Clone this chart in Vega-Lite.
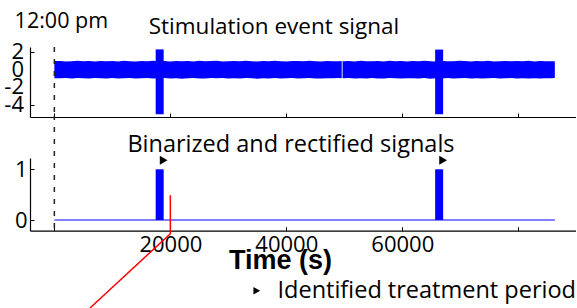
{
  "$schema": "https://vega.github.io/schema/vega-lite/v6.json",
  "padding": {"left": 4, "top": 11, "right": 0, "bottom": 0},
  "autosize": {"type": "pad"},
  "bounds": "flush",
  "spacing": 41,
  "config": {
    "view": {"stroke": null},
    "font": "Open Sans",
    "axis": {"grid": false, "domainColor": "#000", "domainWidth": 1.2, "tickColor": "#000", "tickSize": -4, "tickWidth": 1, "labelColor": "#000", "labelFont": "Open Sans", "labelFontSize": 22, "titleColor": "#000"},
    "title": {"font": "Open Sans", "fontSize": 22.5, "fontWeight": "normal", "color": "#000", "frame": "group"}
  },
  "datasets": {
    "noise": [
      {"t":0,"hi":0.98,"lo":-0.95,"seg":"a"},{"t":1000,"hi":1.0,"lo":-0.97,"seg":"a"},{"t":2000,"hi":0.94,"lo":-0.92,"seg":"a"},{"t":3000,"hi":0.97,"lo":-0.99,"seg":"a"},{"t":4000,"hi":1.01,"lo":-0.94,"seg":"a"},
      {"t":5000,"hi":0.95,"lo":-0.96,"seg":"a"},{"t":6000,"hi":0.98,"lo":-1.0,"seg":"a"},{"t":7000,"hi":0.93,"lo":-0.93,"seg":"a"},{"t":8000,"hi":1.0,"lo":-0.97,"seg":"a"},{"t":9000,"hi":0.96,"lo":-0.98,"seg":"a"},
      {"t":10000,"hi":0.99,"lo":-0.93,"seg":"a"},{"t":11000,"hi":0.94,"lo":-1.0,"seg":"a"},{"t":12000,"hi":1.01,"lo":-0.95,"seg":"a"},{"t":13000,"hi":0.97,"lo":-0.92,"seg":"a"},{"t":14000,"hi":0.94,"lo":-0.99,"seg":"a"},
      {"t":15000,"hi":0.99,"lo":-0.96,"seg":"a"},{"t":16000,"hi":0.97,"lo":-0.94,"seg":"a"},{"t":17000,"hi":1.02,"lo":-1.0,"seg":"a"},{"t":18000,"hi":0.95,"lo":-0.97,"seg":"a"},{"t":19000,"hi":0.98,"lo":-0.93,"seg":"a"},
      {"t":20000,"hi":0.93,"lo":-0.98,"seg":"a"},{"t":21000,"hi":1.0,"lo":-0.95,"seg":"a"},{"t":22000,"hi":0.96,"lo":-1.01,"seg":"a"},{"t":23000,"hi":0.99,"lo":-0.96,"seg":"a"},{"t":24000,"hi":0.94,"lo":-0.93,"seg":"a"},
      {"t":25000,"hi":1.01,"lo":-0.98,"seg":"a"},{"t":26000,"hi":0.96,"lo":-0.99,"seg":"a"},{"t":27000,"hi":0.98,"lo":-0.94,"seg":"a"},{"t":28000,"hi":1.02,"lo":-0.97,"seg":"a"},{"t":29000,"hi":0.94,"lo":-0.92,"seg":"a"},
      {"t":30000,"hi":0.97,"lo":-1.0,"seg":"a"},{"t":31000,"hi":1.0,"lo":-0.95,"seg":"a"},{"t":32000,"hi":0.95,"lo":-0.98,"seg":"a"},{"t":33000,"hi":1.01,"lo":-0.93,"seg":"a"},{"t":34000,"hi":0.97,"lo":-0.96,"seg":"a"},
      {"t":35000,"hi":0.93,"lo":-1.01,"seg":"a"},{"t":36000,"hi":0.99,"lo":-0.95,"seg":"a"},{"t":37000,"hi":0.96,"lo":-0.98,"seg":"a"},{"t":38000,"hi":1.01,"lo":-0.93,"seg":"a"},{"t":39000,"hi":0.97,"lo":-0.99,"seg":"a"},
      {"t":40000,"hi":0.94,"lo":-0.96,"seg":"a"},{"t":41000,"hi":1.0,"lo":-0.94,"seg":"a"},{"t":42000,"hi":0.98,"lo":-1.0,"seg":"a"},{"t":43000,"hi":0.95,"lo":-0.95,"seg":"a"},{"t":44000,"hi":1.02,"lo":-0.92,"seg":"a"},
      {"t":45000,"hi":0.97,"lo":-0.98,"seg":"a"},{"t":46000,"hi":0.94,"lo":-0.99,"seg":"a"},{"t":47000,"hi":0.99,"lo":-0.95,"seg":"a"},{"t":48000,"hi":0.97,"lo":-0.97,"seg":"a"},{"t":49000,"hi":0.96,"lo":-0.93,"seg":"a"},
      {"t":49550,"hi":0.98,"lo":-0.96,"seg":"a"},
      {"t":49700,"hi":0.97,"lo":-0.97,"seg":"b"},{"t":50800,"hi":1.0,"lo":-0.93,"seg":"b"},{"t":51800,"hi":0.94,"lo":-0.99,"seg":"b"},{"t":52800,"hi":1.01,"lo":-0.95,"seg":"b"},{"t":53800,"hi":0.97,"lo":-1.0,"seg":"b"},
      {"t":54800,"hi":0.95,"lo":-0.94,"seg":"b"},{"t":55800,"hi":0.99,"lo":-0.98,"seg":"b"},{"t":56800,"hi":0.94,"lo":-0.99,"seg":"b"},{"t":57800,"hi":1.02,"lo":-0.93,"seg":"b"},{"t":58800,"hi":0.97,"lo":-0.96,"seg":"b"},
      {"t":59800,"hi":0.98,"lo":-1.0,"seg":"b"},{"t":60800,"hi":0.94,"lo":-0.95,"seg":"b"},{"t":61800,"hi":1.0,"lo":-0.97,"seg":"b"},{"t":62800,"hi":0.96,"lo":-0.98,"seg":"b"},{"t":63800,"hi":1.01,"lo":-0.93,"seg":"b"},
      {"t":64800,"hi":0.97,"lo":-1.01,"seg":"b"},{"t":65800,"hi":0.93,"lo":-0.96,"seg":"b"},{"t":66800,"hi":1.0,"lo":-0.98,"seg":"b"},{"t":67800,"hi":0.97,"lo":-0.94,"seg":"b"},{"t":68800,"hi":0.95,"lo":-0.99,"seg":"b"},
      {"t":69800,"hi":1.01,"lo":-0.96,"seg":"b"},{"t":70800,"hi":0.98,"lo":-0.92,"seg":"b"},{"t":71800,"hi":0.94,"lo":-0.98,"seg":"b"},{"t":72800,"hi":0.99,"lo":-0.95,"seg":"b"},{"t":73800,"hi":0.96,"lo":-1.0,"seg":"b"},
      {"t":74800,"hi":1.02,"lo":-0.97,"seg":"b"},{"t":75800,"hi":0.94,"lo":-0.94,"seg":"b"},{"t":76800,"hi":0.97,"lo":-0.99,"seg":"b"},{"t":77800,"hi":1.0,"lo":-0.96,"seg":"b"},{"t":78800,"hi":0.95,"lo":-0.93,"seg":"b"},
      {"t":79800,"hi":0.98,"lo":-1.0,"seg":"b"},{"t":80800,"hi":0.97,"lo":-0.97,"seg":"b"},{"t":81800,"hi":1.01,"lo":-0.98,"seg":"b"},{"t":82800,"hi":0.94,"lo":-0.95,"seg":"b"},{"t":83800,"hi":0.99,"lo":-0.99,"seg":"b"},
      {"t":84800,"hi":0.96,"lo":-0.96,"seg":"b"},{"t":85800,"hi":0.97,"lo":-0.97,"seg":"b"},{"t":86300,"hi":0.95,"lo":-0.94,"seg":"b"}
    ],
    "events": [
      {"start":17470,"end":18850,"hi":2.3,"lo":-5.03,"on":1,"off":0,"kind":"Identified treatment period"},
      {"start":65660,"end":67040,"hi":2.28,"lo":-5.03,"on":1,"off":0,"kind":"Identified treatment period"}
    ],
    "binary": [
      {"t":0,"v":0},{"t":86300,"v":0}
    ],
    "marker": [
      {"t":0,"label":"12:00 pm"}
    ],
    "yticks": [
      {"v":2,"label":"2"},{"v":0,"label":"0"},{"v":-2,"label":"-2"},{"v":-4,"label":"-4"}
    ],
    "pointer": [
      {"t":20000,"v":0.49,"o":1},{"t":20000,"v":-0.27,"o":2},{"t":6110,"v":-1.74,"o":3}
    ]
  },
  "vconcat": [
    {
      "width": 546,
      "height": 70,
      "title": {"text": "Stimulation event signal", "dx": -29, "offset": -45, "baseline": "alphabetic", "frame": "group"},
      "layer": [
        {
          "data": {"name": "noise"},
          "mark": {"type": "area", "color": "#0000ff", "opacity": 1},
          "encoding": {
            "x": {"field": "t", "type": "quantitative", "scale": {"domain": [-4200, 89950], "nice": false, "zero": false},
                  "axis": {"values": [0, 20000, 40000, 60000, 80000], "labels": false, "title": null}},
            "y": {"field": "hi", "type": "quantitative", "scale": {"domain": [-5.34, 2.57], "nice": false, "zero": false},
                  "axis": {"values": [2, 0, -2, -4], "title": null, "labels": false}},
            "y2": {"field": "lo"},
            "detail": {"field": "seg"}
          }
        },
        {
          "data": {"name": "events"},
          "mark": {"type": "rect", "color": "#0000ff"},
          "encoding": {
            "x": {"field": "start", "type": "quantitative"},
            "x2": {"field": "end"},
            "y": {"field": "hi", "type": "quantitative"},
            "y2": {"field": "lo"}
          }
        },
        {
          "data": {"name": "marker"},
          "mark": {"type": "rule", "color": "#222", "strokeWidth": 1.5, "strokeDash": [5, 7]},
          "encoding": {
            "x": {"field": "t", "type": "quantitative"},
            "y": {"datum": 2.57},
            "y2": {"datum": -5.34}
          }
        },
        {
          "data": {"name": "marker"},
          "mark": {"type": "text", "fontSize": 21.5, "dx": 7, "align": "center", "baseline": "alphabetic", "color": "#000"},
          "encoding": {
            "x": {"field": "t", "type": "quantitative"},
            "y": {"datum": 4.68},
            "text": {"field": "label"}
          }
        },
        {
          "data": {"name": "yticks"},
          "mark": {"type": "text", "fontSize": 22, "dx": -6, "align": "right", "baseline": "middle", "color": "#000"},
          "encoding": {
            "x": {"datum": -4200},
            "y": {"field": "v", "type": "quantitative"},
            "text": {"field": "label"}
          }
        }
      ]
    },
    {
      "width": 546,
      "height": 72.7,
      "title": {"text": "Binarized and rectified signals", "dx": -12, "offset": -60, "fontSize": 23.5, "baseline": "alphabetic", "frame": "group"},
      "layer": [
        {
          "data": {"name": "binary"},
          "mark": {"type": "line", "color": "#0000ff", "strokeWidth": 1.2},
          "encoding": {
            "x": {"field": "t", "type": "quantitative", "scale": {"domain": [-4200, 89950], "nice": false, "zero": false},
                  "axis": {"values": [0, 20000, 40000, 60000, 80000], "format": "d",
                           "labelExpr": "datum.value > 0 && datum.value < 80000 ? datum.label : ''",
                           "labelPadding": 8, "labelOverlap": false,
                           "title": "Time (s)", "titleFont": "Liberation Sans", "titleFontWeight": "bold",
                           "titleFontSize": 27, "titleX": 250, "titleY": 37.5, "titleBaseline": "alphabetic", "titleAlign": "center"}},
            "y": {"field": "v", "type": "quantitative", "scale": {"domain": [-0.211, 1.223], "nice": false, "zero": false},
                  "axis": {"values": [0, 1], "title": null, "labelPadding": 7, "labelBaseline": "middle"}}
          }
        },
        {
          "data": {"name": "events"},
          "mark": {"type": "rect", "color": "#0000ff"},
          "encoding": {
            "x": {"field": "start", "type": "quantitative"},
            "x2": {"field": "end"},
            "y": {"field": "on", "type": "quantitative"},
            "y2": {"field": "off"}
          }
        },
        {
          "data": {"name": "events"},
          "mark": {"type": "point", "filled": true, "color": "#000", "opacity": 1, "size": 80, "yOffset": -9},
          "encoding": {
            "x": {"field": "end", "type": "quantitative"},
            "y": {"field": "on", "type": "quantitative"},
            "shape": {"field": "kind", "type": "nominal", "scale": {"range": ["triangle-right"]},
                      "legend": {"title": null, "orient": "none", "legendX": 215, "legendY": 232, "padding": 0,
                                 "labelFont": "Open Sans", "labelFontSize": 23.5, "labelColor": "#000", "labelOffset": 9, "labelLimit": 400,
                                 "symbolSize": 60, "symbolFillColor": "#000", "symbolStrokeWidth": 0}}
          }
        },
        {
          "data": {"name": "marker"},
          "mark": {"type": "rule", "color": "#222", "strokeWidth": 1.5, "strokeDash": [5, 7]},
          "encoding": {
            "x": {"field": "t", "type": "quantitative"},
            "y": {"datum": -0.16},
            "y2": {"datum": 2.05}
          }
        },
        {
          "data": {"name": "pointer"},
          "mark": {"type": "line", "color": "#ff0000", "strokeWidth": 1.5},
          "encoding": {
            "x": {"field": "t", "type": "quantitative"},
            "y": {"field": "v", "type": "quantitative"},
            "order": {"field": "o"}
          }
        }
      ]
    }
  ]
}
